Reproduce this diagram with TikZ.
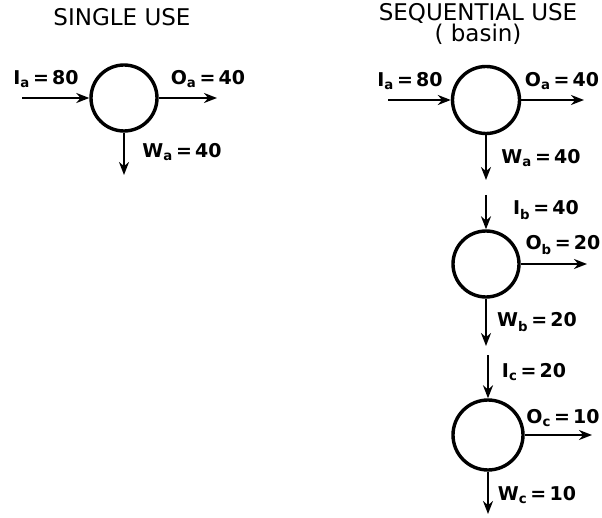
\documentclass[tikz,border=0pt]{standalone}
\usepackage{fontspec}
\setmainfont{DejaVu Sans}
\usetikzlibrary{arrows.meta}
\tikzset{
  tank/.style={draw, circle, line width=3.4pt, minimum size=#1, inner sep=0pt},
  flow/.style={line width=2.4pt, -{Stealth[length=13pt,width=10pt]}},
  lbl/.style={font=\bfseries\fontsize{19}{21}\selectfont, inner sep=0pt},
  ttl/.style={font=\fontsize{23}{18}\selectfont, inner sep=0pt, align=center},
}
\newcommand{\fl}[3]{#1\textsubscript{#2}\,=\,#3}
\begin{document}
\begin{tikzpicture}[x=1pt,y=-1pt]
\useasboundingbox (0,0) rectangle (602,518);
% ---------- single use ----------
\node[ttl] (t1) at (122,17) {SINGLE USE};
\node[tank=66pt] (c0) at (124,98) {};
\coordinate (i0) at (22,98);
\coordinate (o0) at (217,98);
\coordinate (w0) at (124,175);
\draw[flow] (i0) -- (c0.west);
\draw[flow] (c0.east) -- (o0);
\draw[flow] (c0.south) -- (w0);
\node[lbl] (li0) at (46,79) {\fl{I}{a}{80}};
\node[lbl] (lo0) at (208,79) {\fl{O}{a}{40}};
\node[lbl] (lw0) at (182,152) {\fl{W}{a}{40}};
% ---------- sequential use ----------
\node[ttl] (t2) at (478,24) {SEQUENTIAL USE\\( basin)};
\node[tank=67pt] (ca) at (486,100) {};
\node[tank=66pt] (cb) at (486,264) {};
\node[tank=70pt] (cc) at (488,435) {};
\coordinate (ia) at (388,100);
\coordinate (oa) at (584,100);
\coordinate (wa) at (ca.south |- 0,180);
\coordinate (ib) at (cb.north |- 0,195);
\coordinate (ob) at (587,264);
\coordinate (wb) at (cb.south |- 0,346);
\coordinate (ic) at (cc.north |- 0,355);
\coordinate (oc) at (592,435);
\coordinate (wc) at (cc.south |- 0,514);
\draw[flow] (ia) -- (ca.west);
\draw[flow] (ca.east) -- (oa);
\draw[flow] (ca.south) -- (wa);
\draw[flow] (ib) -- (cb.north);
\draw[flow] (cb.east) -- (ob);
\draw[flow] (cb.south) -- (wb);
\draw[flow] (ic) -- (cc.north);
\draw[flow] (cc.east) -- (oc);
\draw[flow] (cc.south) -- (wc);
\node[lbl] (lia) at (410,81) {\fl{I}{a}{80}};
\node[lbl] (loa) at (562,81) {\fl{O}{a}{40}};
\node[lbl] (lwa) at (541,158) {\fl{W}{a}{40}};
\node[lbl] (lib) at (546,210) {\fl{I}{b}{40}};
\node[lbl] (lob) at (563,245) {\fl{O}{b}{20}};
\node[lbl] (lwb) at (537,322) {\fl{W}{b}{20}};
\node[lbl] (lic) at (534,372) {\fl{I}{c}{20}};
\node[lbl] (loc) at (563,418) {\fl{O}{c}{10}};
\node[lbl] (lwc) at (537,495) {\fl{W}{c}{10}};
\end{tikzpicture}
\end{document}
